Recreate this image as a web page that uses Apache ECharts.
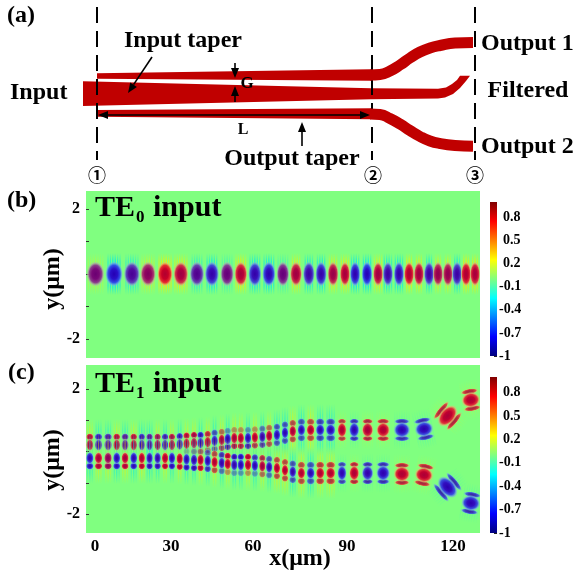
<!DOCTYPE html>
<html><head><meta charset="utf-8">
<style>html,body{margin:0;background:#fff}#c{width:576px;height:573px}</style>
<script src="https://cdn.jsdelivr.net/npm/echarts@6/dist/echarts.min.js"></script>
</head><body><div id="c"></div>
<script>
/* ---------- data ---------- */
// panel (b): TE0 input, one lobe per column on y = 0
const bX = [.2,6.4,12.4,17.8,23.5,28.8,34.2,39.2,44.3,48.9,53.6,58.3,63,67.4,71.7,75.8,79.8,83.8,87.2,91.2,94.9,98.2,101.9,105.3,108.6,112,115,118.3,121.4,124.4,127.4];
const bV = [0,-1,-.5,.3,1,.7,-.4,-.8,-.1,.8,-.8,-.9,-.1,.7,-.7,-.8,.6,.8,-.9,-1,.7,-.7,-.8,.9,.7,-.7,.5,.5,-.7,.9,.8];
// panel (c): TE1 input, two arms
const cX = [-1.7,1.2,4.4,7.3,10.1,13,15.7,18.3,21,23.5,25.8,28.4,30.7,33.2,35.4,37.8,40.1,42.5,44.5,46.7,48.9,51.3,53.6,56.1,58.4,61,63.7,66.3,69.2,72.3,75.5,79,82.8,86.9,91.4,96.6,102.9,110.3,118.2,126];
const cUpperY = [.21,.21,.21,.21,.21,.21,.21,.21,.21,.21,.21,.23,.25,.27,.27,.3,.34,.37,.4,.43,.43,.43,.45,.47,.5,.53,.6,.65,.69,.69,.69,.69,.69,.69,.69,.69,.69,.72,1.14,1.65];
const cLowerY = [-.21,-.21,-.21,-.21,-.21,-.21,-.21,-.21,-.21,-.21,-.21,-.23,-.25,-.27,-.27,-.3,-.34,-.37,-.4,-.43,-.43,-.43,-.45,-.47,-.5,-.53,-.6,-.65,-.69,-.69,-.69,-.69,-.69,-.69,-.69,-.69,-.72,-.75,-1.14,-1.65];
const cUpperV = [.9,-.9,-.7,.9,-.6,.9,-.9,-.3,.6,-.9,.8,-.9,.9,.7,-.9,.9,-.9,.8,-.9,.8,.9,-.9,.9,-.7,.8,-.9,-.9,.8,-.9,.9,-.9,-.9,.9,-.9,.8,.9,-.9,-.9,.9,.9];
const cLowerV = [-.9,.8,.4,-.9,.8,-.9,.9,-.8,-.8,.9,-.9,.9,-.9,-.8,.9,-.9,.9,-.8,.9,-.8,-.9,.9,-.9,.7,-.8,.9,.9,-.8,.9,-.9,.9,.9,-.9,.9,-.8,-.9,.9,.9,-.9,-.9];
// relative strength of the weak side bands on the outer / inner side of each arm
const cBandOuter = [.7,.7,.7,.7,.7,.7,.7,.7,.7,.7,.7,.7,.7,.7,.7,.6,.5,.4,.3,.3,.3,.3,.3,.4,.4,.5,.5,.5,.5,.5,.55,.55,.55,.6,.6,.6,.6,.6,.6,.6];
const cBandInner = [0,0,0,0,0,0,0,0,0,0,0,0,.1,.2,.3,.4,.5,.6,.7,.7,.7,.7,.6,.6,.5,.5,.5,.5,.5,.5,.55,.55,.55,.6,.6,.6,.6,.6,.6,.6];
// axes
const xTickPos = [0,25.5,53,84.5,120];
const xTickLabels = ['0','30','60','90','120'];
const yTicks = [-2,-1,0,1,2];
const yLabelled = [-2,2];
const barTicks = [-1,-.7,-.4,-.1,.2,.5,.8];
const barRange = [[-1,1]];
const jetStops = [[-1,'#00007f'],[-.75,'#0000ff'],[-.25,'#00ffff'],[0,'#80ff80'],[.25,'#ffff00'],[.75,'#ff0000'],[1,'#7f0000']];
// panel (a): waveguide outlines and centre lines
const guideUpperTaper = [[97,73.3],[371,69.3],[371,80.7],[97,78.7]];
const guideInput = [[83,81.3],[371,88.3],[438,88.7],[446,87.5],[452,84],[457,80],[460,75.7],[470,75.7],[466,81],[460,88],[453,94],[445,97.5],[438,98.5],[371,99.3],[83,106]];
const guideLowerTaper = [[97,110],[371,108.3],[371,119.3],[97,116.7]];
const guides = [guideUpperTaper,guideInput,guideLowerTaper];
const bendUpper = [[370,75],[380,74.5],[390,71],[400,65],[410,58],[420,52],[430,48],[440,45.5],[455,43],[473,42.5]];
const bendLower = [[370,114],[380,114.5],[390,118.5],[400,124],[410,130.5],[420,136.5],[430,141],[440,143.5],[455,145.5],[473,146.3]];
const dashX = [97,372,475];
const arrows = [[152,57,128,93],[235,63,235,78],[235,102,235,86],[302,146,302,122],[235,115,98,115],[235,115,370,115]];
const notes = [
  ['(a)',7,16,'left',24],['Input',10,93,'left',24],['Input taper',183,41,'center',24],['G',247,84,'center',17],['L',243,130,'center',16],
  ['Output taper',292,159,'center',24],['Output 1',481,44,'left',24],['Filtered',528,91,'center',24],['Output 2',481,147,'left',24],
  ['(b)',7,201,'left',24],['(c)',8,373,'left',24],
  ['TE',95,208,'left',30],['0',136,218,'left',17],['input',153,208,'left',30],
  ['TE',95,384,'left',30],['1',136,394,'left',17],['input',153,384,'left',30]
];
const marks = [['\u2460',97,175],['\u2461',373,175],['\u2462',475,175]];

/* ---------- helpers ---------- */
const SERIF = '"Liberation Serif"';
const RED = '#c00000';
function rgb(h){return [1,3,5].map(i=>parseInt(h.slice(i,i+2),16));}
function mix(a,b,t,al){const A=rgb(a),B=rgb(b);const c=A.map((x,i)=>Math.round(x+(B[i]-x)*t));return `rgba(${c[0]},${c[1]},${c[2]},${al==null?1:al})`;}
function blob(x,y,v,rx,ry,alpha){
  const t=(v+1)/2;
  return {type:'circle',x,y,scaleX:rx/10,scaleY:ry/10,shape:{cx:0,cy:0,r:10},style:{opacity:alpha,fill:{type:'radial',x:.5,y:.5,r:.5,colorStops:[
    {offset:0,color:mix('#2400b4','#b00030',t)},
    {offset:.4,color:mix('#2a10c8','#c80028',t)},
    {offset:.68,color:mix('#3050e8','#e83030',t)},
    {offset:.86,color:mix('#70a8e8','#e8b868',t,.65)},
    {offset:1,color:mix('#80ff80','#80ff80',0,0)}]}},silent:true};
}
function stripes(v,sp,strength,reach){
  const col=v>=0?'#f0f000':'#00e8e8', a=strength;
  const n=Math.max(2,Math.floor(sp*.92/2.4)), out=[];
  for(let k=0;k<n;k++){
    const sx=(k-(n-1)/2)*2.4;
    const fade=1-Math.abs(k-(n-1)/2)/(n/2+.5)*.6;
    out.push({type:'rect',shape:{x:sx-.7,y:-reach,width:1.4,height:reach*2},style:{fill:{type:'linear',x:0,y:0,x2:0,y2:1,colorStops:[
      {offset:0,color:mix(col,col,0,0)},{offset:.22,color:mix(col,col,0,a*fade)},{offset:.78,color:mix(col,col,0,a*fade)},{offset:1,color:mix(col,col,0,0)}]}},silent:true});
  }
  return out;
}
function spacingAt(xs,i){
  const a=xs[Math.max(0,i-1)],b=xs[Math.min(xs.length-1,i+1)];
  return (b-a)/((i===0||i===xs.length-1)?1:2);
}
const tiltDeg = [12,50,10];
const tiltLength = [.42,.55,.42];
function renderB(p,api){
  const i=p.dataIndex, xy=api.coord([api.value(0),api.value(1)]), v=api.value(2);
  const sp=spacingAt(bX,i)*api.size([1,0])[0];
  return {type:'group',x:xy[0],y:xy[1],children:stripes(v,sp,.4+.6*Math.abs(v),21).concat([blob(0,0,v,Math.max(sp*.5,5.5),13,1)])};
}
function renderC(arm){return function(p,api){
  const i=p.dataIndex, xy=api.coord([api.value(0),api.value(1)]), v=api.value(2), out=api.value(3), inn=api.value(4);
  const sp=spacingAt(cX,i)*api.size([1,0])[0];
  const n=cX.length, back=n-1-i, tilted=back<tiltDeg.length, slot=tiltDeg.length-1-back;
  const rx=tilted?sp*tiltLength[slot]:Math.max(sp*(sp<11?.48:.42),3.8);
  const tilt=tilted?tiltDeg[slot]*Math.PI/180*arm:0;
  const bandRy=sp<11?4:3, bandRx=sp<11?rx:rx*.95, gap=sp<11?8:8.5;
  const kids=stripes(v,sp,sp<11?.48:.18,sp<11?26:20);
  if(out>.01)kids.push(blob(0,-arm*gap,v,bandRx,bandRy,Math.min(1,out*1.4)));
  if(inn>.01)kids.push(blob(0,arm*gap,v,bandRx,bandRy,Math.min(1,inn*1.4)));
  kids.push(blob(0,0,v,rx,sp<11?6.5:8,1));
  return {type:'group',x:xy[0],y:xy[1],rotation:tilt,children:kids};
};}
function renderPoly(p,api){
  return {type:'polygon',shape:{points:guides[p.dataIndex].map(q=>api.coord(q))},style:{fill:RED}};
}
function renderArrow(p,api){
  const a=api.coord([api.value(0),api.value(1)]),b=api.coord([api.value(2),api.value(3)]);
  const ang=Math.atan2(b[1]-a[1],b[0]-a[0]),L=10,W=4;
  const bx=b[0]-Math.cos(ang)*L,by=b[1]-Math.sin(ang)*L;
  return {type:'group',children:[
    {type:'line',shape:{x1:a[0],y1:a[1],x2:bx,y2:by},style:{stroke:'#000',lineWidth:1.6}},
    {type:'polygon',shape:{points:[b,[bx-Math.sin(ang)*W,by+Math.cos(ang)*W],[bx+Math.sin(ang)*W,by-Math.cos(ang)*W]]},style:{fill:'#000'}}]};
}
function renderDash(p,api){
  const x=api.value(0),a=api.coord([x,7]),b=api.coord([x,160]);
  return {type:'line',shape:{x1:a[0],y1:a[1],x2:b[0],y2:b[1]},style:{stroke:'#000',lineWidth:2,lineDash:[16,8]}};
}
function renderBar(p,api){
  const a=api.coord([0,api.value(1)]),b=api.coord([0,api.value(0)]);
  const lo=jetStops[0][0],hi=jetStops[jetStops.length-1][0];
  return {type:'rect',shape:{x:p.coordSys.x,y:a[1],width:p.coordSys.width,height:b[1]-a[1]},style:{fill:{type:'linear',x:0,y:1,x2:0,y2:0,
    colorStops:jetStops.map(s=>({offset:(s[0]-lo)/(hi-lo),color:s[1]}))}}};
}
const plotX = {min:-3,max:129.07};
const hidden = {show:false};
function yAxisFor(idx,min,max,name,pad){
  return {gridIndex:idx,type:'value',min,max,
    axisLine:{show:false,onZero:false},splitLine:{show:false},
    axisTick:{show:true,inside:true,length:3,customValues:yTicks,lineStyle:{color:'#333',width:1}},
    axisLabel:{show:true,customValues:yLabelled,margin:6,color:'#000',fontFamily:SERIF,fontWeight:'bold',fontSize:16,formatter:v=>String(v)},
    name,nameLocation:'middle',nameGap:21,nameRotate:90,nameMoveOverlap:false,
    nameTextStyle:{color:'#000',fontFamily:SERIF,fontWeight:'bold',fontSize:24,padding:pad}};
}
function barAxis(idx){
  return {gridIndex:idx,type:'value',position:'right',min:-1,max:1,
    axisLine:{show:false,onZero:false},splitLine:{show:false},
    axisTick:{show:true,inside:true,length:3,customValues:barTicks,lineStyle:{color:'#222',width:1}},
    axisLabel:{show:true,customValues:barTicks,margin:2,align:'left',color:'#000',fontFamily:SERIF,fontWeight:'bold',fontSize:14,
      formatter:v=>v>0?`{p|${v.toFixed(1)}}`:(v===-1?'-1':v.toFixed(1)),
      rich:{p:{padding:[0,0,0,4],color:'#000',fontFamily:SERIF,fontWeight:'bold',fontSize:14}}}};
}
const gridBase = {outerBoundsMode:'none',containLabel:false};
const option = {
  animation:false,backgroundColor:'#fff',
  grid:[
    {left:0,top:0,width:576,height:190},
    {left:86,top:191,width:394,height:167,show:true,backgroundColor:'#80ff80',borderWidth:0},
    {left:86,top:365,width:394,height:168,show:true,backgroundColor:'#80ff80',borderWidth:0},
    {left:490,top:202,width:7,height:154},
    {left:490,top:377,width:7,height:156}
  ].map(g=>Object.assign({},gridBase,g)),
  xAxis:[
    Object.assign({gridIndex:0,type:'value',min:0,max:576},hidden),
    Object.assign({gridIndex:1,type:'value'},plotX,hidden),
    Object.assign({gridIndex:2,type:'value'},plotX,{
      axisLine:{show:false,onZero:false},splitLine:{show:false},axisTick:{show:false},
      axisLabel:{show:true,customValues:xTickPos,margin:5,color:'#000',fontFamily:SERIF,fontWeight:'bold',fontSize:17,
        formatter:v=>xTickLabels[xTickPos.indexOf(v)]},
      name:'x(\u03bcm)',nameLocation:'middle',nameGap:14,nameMoveOverlap:false,
      nameTextStyle:{color:'#000',fontFamily:SERIF,fontWeight:'bold',fontSize:24,padding:[0,0,0,34]}}),
    Object.assign({gridIndex:3,type:'value',min:0,max:1},hidden),
    Object.assign({gridIndex:4,type:'value',min:0,max:1},hidden)
  ],
  yAxis:[
    Object.assign({gridIndex:0,type:'value',min:0,max:190,inverse:true},hidden),
    yAxisFor(1,-2.585,2.554,'y(\u03bcm)',[0,9,0,0]),
    yAxisFor(2,-2.608,2.768,'y(\u03bcm)',[0,22,0,0]),
    barAxis(3),barAxis(4)
  ],
  series:[
    {type:'custom',xAxisIndex:0,yAxisIndex:0,renderItem:renderPoly,silent:true,data:guides.map((g,i)=>[i])},
    {type:'line',xAxisIndex:0,yAxisIndex:0,data:bendUpper,smooth:.5,symbol:'none',silent:true,lineStyle:{color:RED,width:11,cap:'butt'}},
    {type:'line',xAxisIndex:0,yAxisIndex:0,data:bendLower,smooth:.5,symbol:'none',silent:true,lineStyle:{color:RED,width:11,cap:'butt'}},
    {type:'custom',xAxisIndex:0,yAxisIndex:0,renderItem:renderDash,silent:true,data:dashX.map(x=>[x])},
    {type:'custom',xAxisIndex:0,yAxisIndex:0,renderItem:renderArrow,silent:true,data:arrows},
    {type:'custom',xAxisIndex:1,yAxisIndex:1,clip:true,silent:true,renderItem:renderB,data:bX.map((x,i)=>[x,0,bV[i]])},
    {type:'custom',xAxisIndex:2,yAxisIndex:2,clip:true,silent:true,renderItem:renderC(1),data:cX.map((x,i)=>[x,cUpperY[i],cUpperV[i],cBandOuter[i],cBandInner[i]])},
    {type:'custom',xAxisIndex:2,yAxisIndex:2,clip:true,silent:true,renderItem:renderC(-1),data:cX.map((x,i)=>[x,cLowerY[i],cLowerV[i],cBandOuter[i],cBandInner[i]])},
    {type:'custom',xAxisIndex:3,yAxisIndex:3,silent:true,renderItem:renderBar,data:barRange},
    {type:'custom',xAxisIndex:4,yAxisIndex:4,silent:true,renderItem:renderBar,data:barRange}
  ],
  graphic:{elements:notes.map(n=>({type:'text',x:n[1],y:n[2],z:50,silent:true,style:{text:n[0],fill:'#000',font:`bold ${n[4]}px ${SERIF}`,textAlign:n[3],textVerticalAlign:'middle'}}))
    .concat(marks.map(m=>({type:'text',x:m[1],y:m[2],z:50,silent:true,style:{text:m[0],fill:'#000',font:'bold 18px "Noto Sans CJK JP"',textAlign:'center',textVerticalAlign:'middle'}})))}
};
echarts.init(document.getElementById('c'),null,{renderer:'canvas'}).setOption(option);
</script></body></html>
